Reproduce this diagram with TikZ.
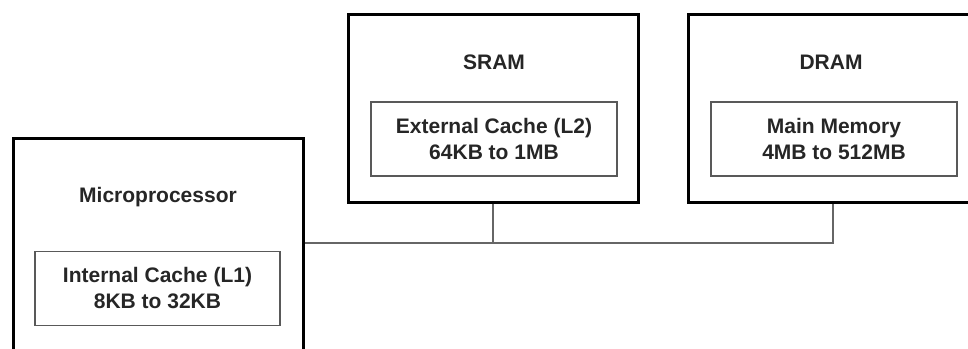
\documentclass[tikz,border=0pt]{standalone}
\usepackage{fontspec}
\setmainfont{Liberation Sans}
\usetikzlibrary{shapes,arrows}
\tikzstyle{chip} = [rectangle, draw=black, line width=3pt, minimum width=290pt, inner sep=0pt]
\tikzstyle{memblock} = [rectangle, draw=black!65, line width=1.4pt, minimum width=246pt, minimum height=74pt, text centered, align=center, inner sep=0pt, text=black!85, font=\fontsize{21}{26}\selectfont\bfseries]
\tikzstyle{title} = [text=black!85, font=\fontsize{21}{26}\selectfont\bfseries]
\tikzstyle{bus} = [draw=black!60, line width=1.4pt]

\begin{document}
\begin{tikzpicture}[x=1pt, y=1pt]
\fill[white] (0,0) rectangle (968,-348);
\useasboundingbox (0,0) rectangle (968,-348);
%
% Define nodes
%
\node (micro) [chip, minimum height=222pt] at (158,-249) {};
\node (sram)  [chip, minimum height=188pt] at (493,-108) {};
\node (dram)  [chip, minimum height=188pt] at (833,-108) {};
\node (microlbl) [title] at (158,-197) {Microprocessor};
\node (sramlbl)  [title] at (494,-62) {SRAM};
\node (dramlbl)  [title] at (831,-62) {DRAM};
\node (lone) [memblock, minimum width=245pt] at (157.5,-288.5) {Internal Cache (L1)\\8KB to 32KB};
\node (ltwo) [memblock] at (494,-139) {External Cache (L2)\\64KB to 1MB};
\node (mainmem) [memblock] at (834,-139) {Main Memory\\4MB to 512MB};
\coordinate (busline) at (0,-243);
%
% Connect nodes
%
\draw [bus] (micro.east |- busline) -| (dram.south);
\draw [bus] (sram.south) -- (sram.south |- busline);
\end{tikzpicture}
\end{document}
